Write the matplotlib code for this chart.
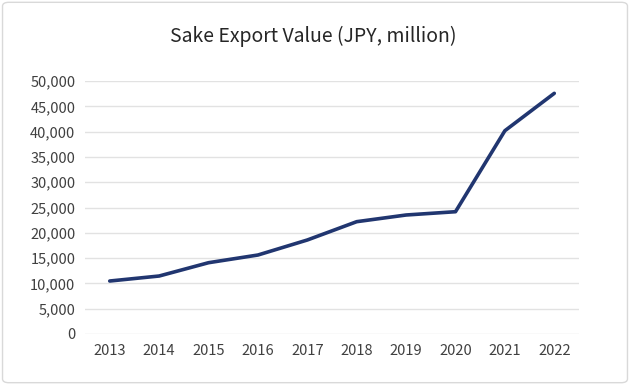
import matplotlib.pyplot as plt
from matplotlib.patches import FancyBboxPatch
from matplotlib.ticker import FuncFormatter

plt.rcParams['font.family'] = ['Noto Sans CJK JP', 'DejaVu Sans']

years = ['2013', '2014', '2015', '2016', '2017', '2018', '2019', '2020', '2021', '2022']
export_value = [10470, 11460, 14090, 15610, 18580, 22200, 23520, 24170, 40180, 47570]

fig = plt.figure(figsize=(6.3, 3.85), dpi=100)
ax = fig.add_axes([0.135, 0.1325, 0.784, 0.657])

ax.plot(range(len(years)), export_value, color='#213670', linewidth=2.6,
        solid_capstyle='round', solid_joinstyle='round', zorder=3)

ax.set_xlim(-0.5, len(years) - 0.5)
ax.set_ylim(0, 50000)
ax.set_yticks(range(0, 50001, 5000))
ax.set_xticks(range(len(years)))
ax.set_xticklabels(years)
ax.yaxis.set_major_formatter(FuncFormatter(lambda v, p: f'{int(v):,}'))
ax.grid(axis='y', color='#e2e2e2', linewidth=1)
ax.set_axisbelow(True)
for s in ax.spines.values():
    s.set_visible(False)
ax.tick_params(length=0, labelsize=10.5, colors='#404040', pad=7)

fig.text(0.497, 0.905, 'Sake Export Value (JPY, million)', ha='center', va='center',
         fontsize=14, color='#262626')

# outer chart border
border = FancyBboxPatch((0.004, 0.006), 0.992, 0.988, boxstyle='round,pad=0,rounding_size=0.01',
                        transform=fig.transFigure, fill=False, edgecolor='#d9d9d9', linewidth=1)
fig.patches.append(border)

fig.savefig('out.png', dpi=100)
